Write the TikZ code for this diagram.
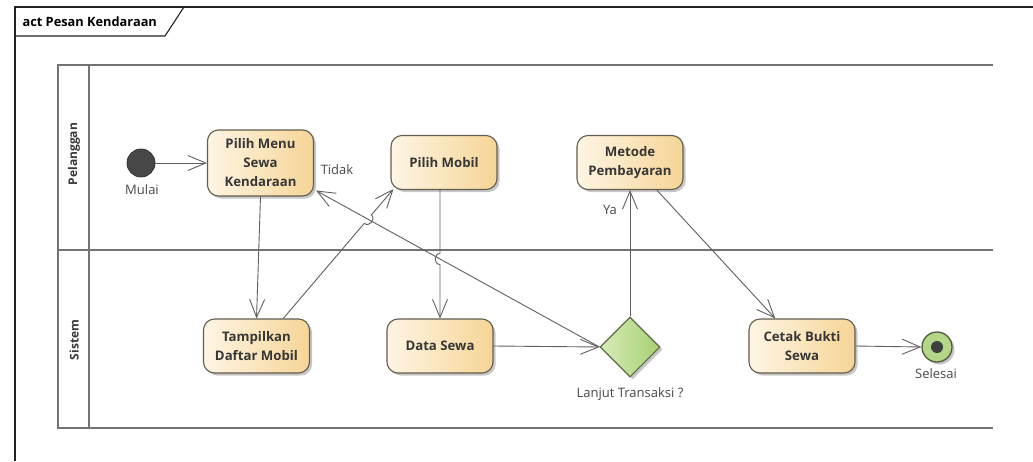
\documentclass[tikz,border=0pt]{standalone}
\usepackage{fontspec}
\setmainfont{Open Sans}
\usetikzlibrary{arrows.meta,shapes.geometric,shadows,calc,intersections}

\definecolor{lanecol}{RGB}{115,115,115}
\definecolor{framecol}{RGB}{35,35,35}
\definecolor{edgecol}{RGB}{95,95,95}
\definecolor{actborder}{RGB}{100,92,78}
\definecolor{actlight}{RGB}{254,245,228}
\definecolor{actdark}{RGB}{246,213,150}
\definecolor{declight}{RGB}{216,236,184}
\definecolor{decdark}{RGB}{166,207,114}
\definecolor{decborder}{RGB}{92,108,72}
\definecolor{txtcol}{RGB}{55,55,55}
\definecolor{lblcol}{RGB}{72,72,72}

\tikzset{
  softshadow/.style={drop shadow={shadow xshift=2.5pt, shadow yshift=-2.5pt, opacity=0.22, fill=black}},
  activity/.style={draw=actborder, line width=1.1pt, rounded corners=11pt,
    left color=actlight, right color=actdark, minimum width=106pt, minimum height=54pt,
    inner sep=2pt, align=center, text=txtcol,
    font=\bfseries\fontsize{13.2}{19}\selectfont, softshadow},
  decision/.style={diamond, aspect=1, draw=decborder, line width=1.1pt,
    left color=declight, right color=decdark, minimum width=60pt, minimum height=60pt,
    inner sep=0pt, softshadow},
  startnode/.style={circle, fill=black!72, draw=black!80, line width=0.8pt,
    minimum size=28pt, inner sep=0pt},
  endnode/.style={circle, fill=decdark!85!white, draw=decborder!85!black, line width=1.3pt,
    minimum size=30pt, inner sep=0pt, softshadow},
  enddot/.style={circle, fill=black!75, minimum size=12pt, inner sep=0pt},
  lbl/.style={text=lblcol, font=\fontsize{13}{15}\selectfont, inner sep=1pt},
  lanelbl/.style={text=txtcol, font=\bfseries\fontsize{12}{14}\selectfont, rotate=90},
  laneline/.style={draw=lanecol, line width=2.1pt},
  flow/.style={draw=edgecol, line width=0.9pt, -{Straight Barb[length=18pt,width=15pt]}},
}

\begin{document}
\begin{tikzpicture}[x=1pt, y=-1pt]
  \useasboundingbox (0,0) rectangle (1033,461);

  % diagram frame with its name tab
  \draw[framecol, line width=1.1pt] (15,461) -- (15,7) -- (1033,7);
  \draw[framecol, line width=1.1pt] (15,36) -- (165,36) -- (184,7);
  \node[anchor=west, text=black, font=\bfseries\fontsize{12.8}{15}\selectfont] (title) at (19,21.5) {act Pesan Kendaraan};

  % swimlanes
  \draw[laneline] (993,65) -- (58,65) -- (58,428) -- (993,428);
  \draw[laneline] (89,65) -- (89,428);
  \draw[laneline] (58,250) -- (993,250);
  \node[lanelbl] (lanecust) at (74,154) {Pelanggan};
  \node[lanelbl] (lanesys) at (74,340) {Sistem};

  % actions
  \node[startnode] (start) at (141,163) {};
  \node[lbl] (mulai) at (142,190) {Mulai};
  \node[activity, minimum height=66pt] (menu) at (260.5,163) {Pilih Menu\\Sewa\\Kendaraan};
  \node[activity] (pm) at (444,162.5) {Pilih Mobil};
  \node[activity] (mp) at (630,162.5) {Metode\\Pembayaran};
  \node[activity] (tamp) at (256.5,346) {Tampilkan\\Daftar Mobil};
  \node[activity] (ds) at (440,346) {Data Sewa};
  \node[decision] (dec) at (630,347) {};
  \node[lbl] (declbl) at (630,394) {Lanjut Transaksi ?};
  \node[activity] (cetak) at (802,346) {Cetak Bukti\\Sewa};
  \node[endnode] (end) at (937,347) {};
  \node[enddot] (enddotc) at (end) {};
  \node[lbl] (selesai) at (936,374) {Selesai};

  % helper points
  \coordinate (menutip) at ($(menu.south east)+(2,-6)$);
  \coordinate (tampout) at ($(tamp.north)!0.5!(tamp.north east)$);
  \coordinate (pmin) at ($(pm.south west)+(3,-1)$);
  \coordinate (pmout) at (ds.north |- pm.south);

  \path[name path=backline] (dec.west) -- (menutip);
  \path[name path=showline] (tampout) -- (pmin);
  \path[name path=dataline] (pmout) -- (ds.north);
  \path[name intersections={of=backline and showline, by=hopa}];
  \path[name intersections={of=backline and dataline, by=hopb}];

  % control flows
  \draw[flow] (start) -- (menu);
  \draw[flow] (menu.south) -- (tamp.north);
  \draw[flow] (tampout) -- ($(hopa)!5.5pt!(tampout)$)
      to[bend right=90, looseness=1.5] ($(hopa)!5.5pt!(pmin)$) -- (pmin);
  \draw[flow] (pmout) -- ($(hopb)!5.5pt!(pmout)$)
      to[bend right=90, looseness=1.5] ($(hopb)!5.5pt!(ds.north)$) -- (ds.north);
  \draw[flow] (ds.east) -- (dec.west);
  \draw[flow] (dec.west) -- (menutip);
  \node[lbl] (tidak) at (337,170) {Tidak};
  \draw[flow] (dec.north) -- (mp.south);
  \node[lbl] (ya) at (610,210) {Ya};
  \draw[flow] ($(mp.south)!0.5!(mp.south east)$) -- ($(cetak.north west)!0.5!(cetak.north)$);
  \draw[flow] (cetak.east) -- (end.west);
\end{tikzpicture}
\end{document}
